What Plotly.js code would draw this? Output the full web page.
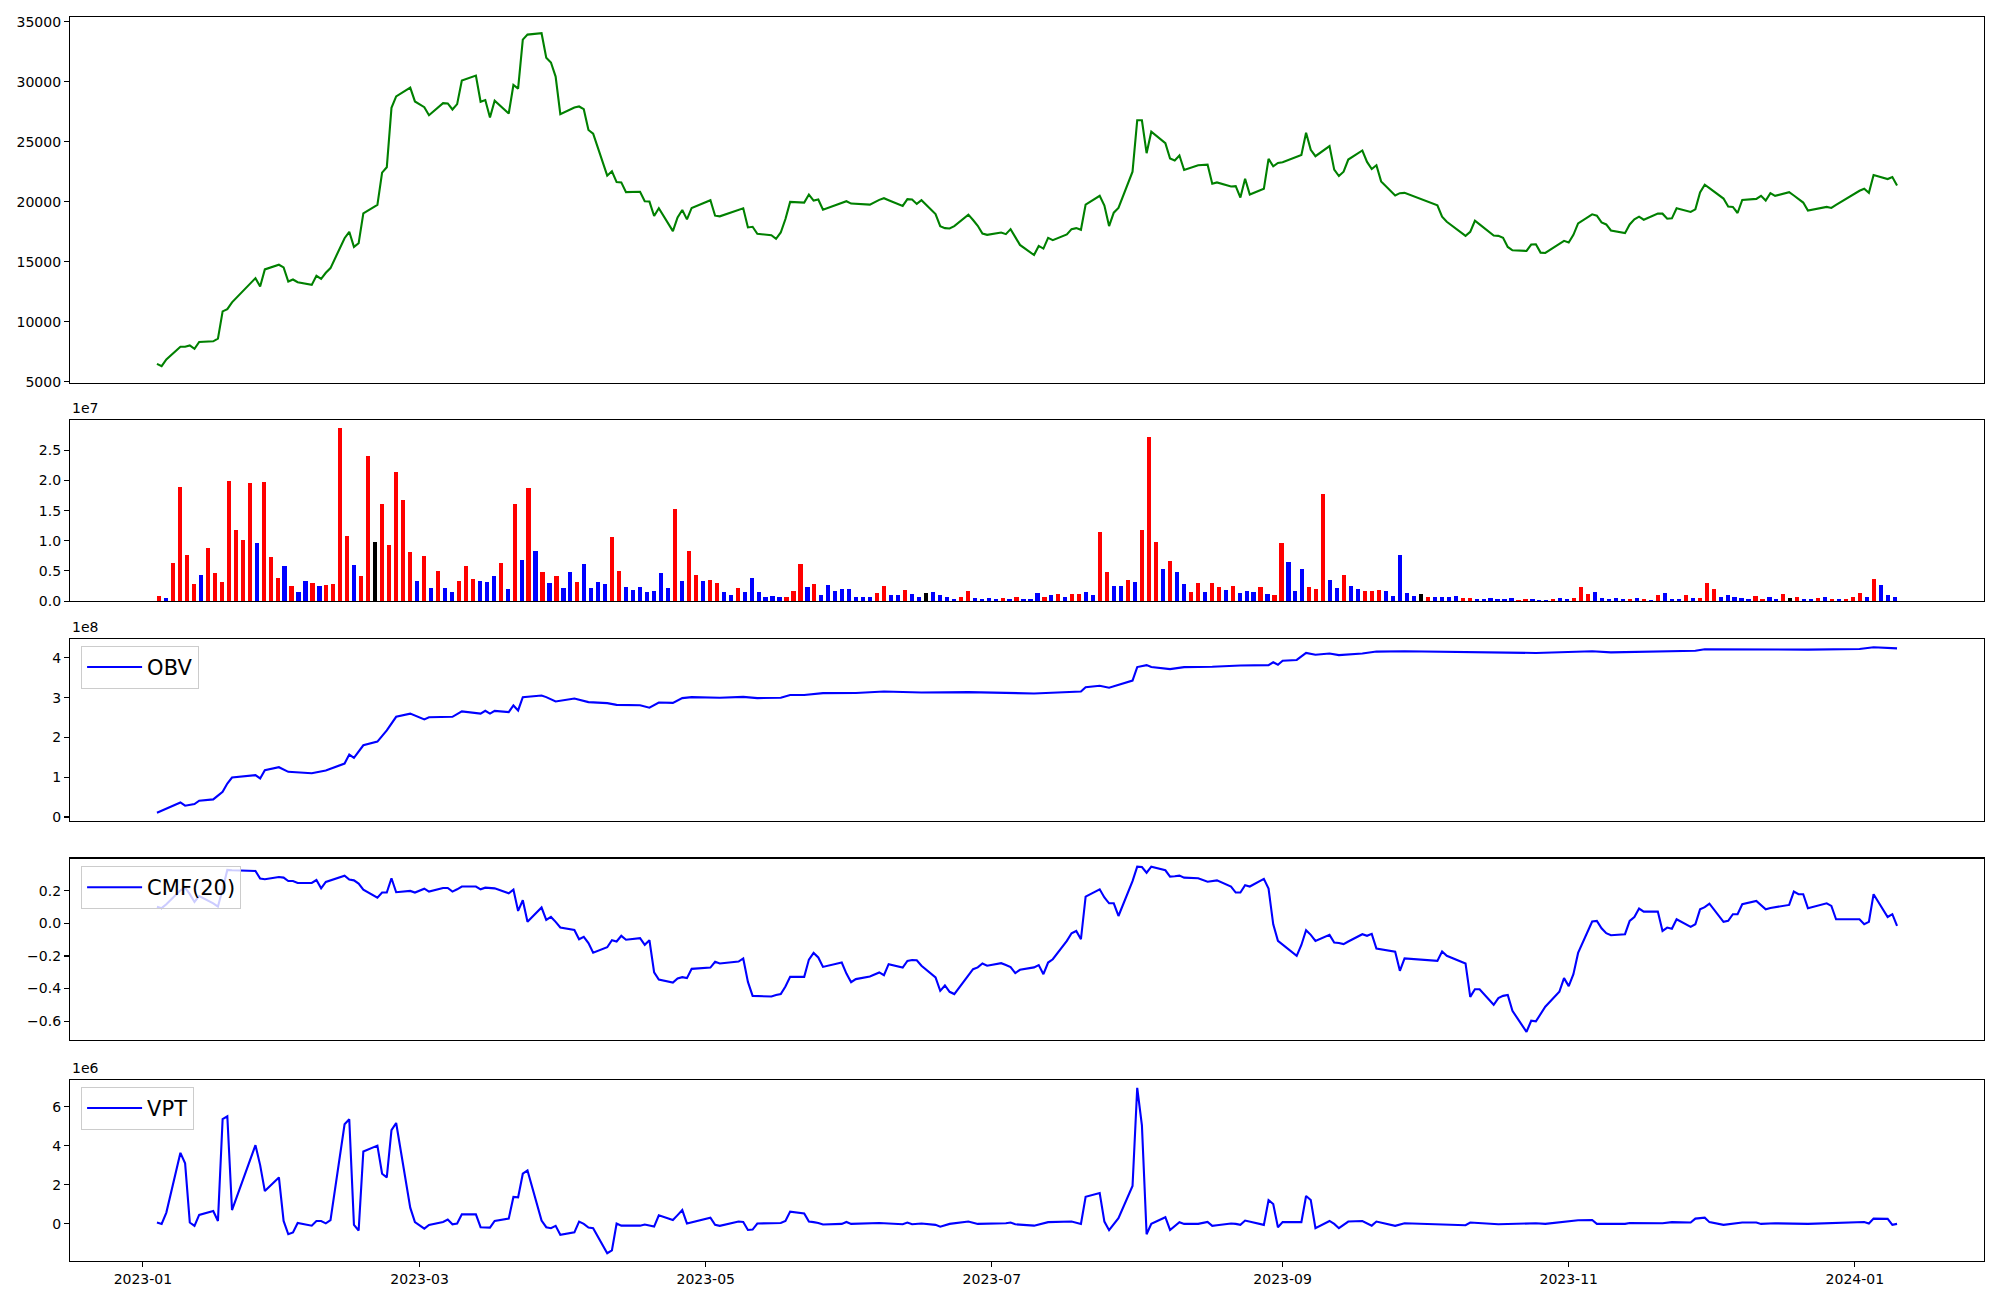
<!DOCTYPE html>
<html><head><meta charset="utf-8">
<script src="https://cdn.plot.ly/plotly-3.0.1.min.js"></script>
<style>html,body{margin:0;padding:0;background:#fff;}#chart{width:2000px;height:1300px;}</style>
</head><body><div id="chart"></div>
<script>
// ---------- calendar (trading days) ----------
const firstDate = '2023-01-04';
const lastDate = '2024-01-10';
const marketHolidays = ['2023-01-23','2023-01-24','2023-03-01','2023-05-01','2023-05-05','2023-05-29','2023-06-06',
  '2023-08-15','2023-09-28','2023-09-29','2023-10-02','2023-10-03','2023-10-09','2023-12-25','2023-12-29','2024-01-01'];
function buildTradingDays(){
  const out=[]; let d=new Date(firstDate+'T00:00:00Z'); const end=new Date(lastDate+'T00:00:00Z');
  while(d<=end){ const wd=d.getUTCDay(); const s=d.toISOString().slice(0,10);
    if(wd!==0&&wd!==6&&!marketHolidays.includes(s)) out.push(s);
    d=new Date(d.getTime()+86400000); }
  return out;
}
const dates = buildTradingDays();

// ---------- close price ----------
const closePrice = [
 6495,6300,6859,7923,7923,8035,7755,8315,8371,8595,10863,11059,11619,13635,12935,14363,14755,14531,
 13355,13523,13299,13075,13831,13579,14083,14475,16967,17499,16239,16547,19039,19739,22427,22875,27831,28783,29511,28363,
 27887,27215,28223,28195,27691,28139,30099,30519,28335,28475,27019,28419,27355,29735,29427,33515,33935,34047,32003,31611,30435,27299,
 27859,27943,27719,25983,25675,22175,22539,21643,21615,20803,20831,20047,20019,18815,19459,17555,18703,19319,18535,19487,
 20131,18843,18787,19375,19459,17863,17919,17331,17219,16911,17443,18563,19991,19935,20607,20103,20187,19347,19879,20047,
 19851,19823,19767,20159,20299,20131,19655,20215,20187,19823,20131,18983,17975,17807,17779,17975,18927,18479,18003,17359,17247,
 17443,17303,17723,17051,16407,15567,16323,16099,16995,16799,17275,17723,17807,17667,19767,20495,19683,17975,19095,19487,22511,
 26795,26795,24051,25843,24891,23603,23435,23855,22651,23043,23099,21503,21615,21279,21307,20355,21923,20607,21083,23575,22959,23239,
 23295,23715,23911,25759,24331,23799,24639,22679,22147,22511,23519,24275,23323,22735,23043,21699,20523,20719,20747,
 19711,18759,18339,17163,17499,18423,18115,17191,17163,16995,16239,15959,15903,16435,16463,15763,15735,16463,16743,
 16603,17247,18199,18955,18843,18283,18115,17611,17387,18115,18535,18759,18507,19011,19011,18591,18619,19459,19151,19375,20775,21419,
 21139,20271,19599,19571,19067,20159,20243,20495,20103,20719,20495,20803,20523,20215,19935,19263,19571,19487,19739,
 20915,21083,20747,22231,21895,22063,21363
];

// ---------- volume (millions of shares) and bar direction r=up b=down k=flat ----------
const volumeM = [
 0.83,0.5,6.3,18.9,7.6,2.8,4.3,8.8,4.65,3.2,
 19.9,11.8,10.1,19.6,9.6,19.8,7.3,3.8,5.8,2.5,
 1.5,3.3,3.0,2.5,2.65,2.8,28.7,10.8,6.0,4.15,
 24.1,9.8,16.1,9.3,21.4,16.8,8.1,3.3,7.5,2.2,
 5.0,2.2,1.5,3.3,5.8,3.65,3.3,3.15,4.15,6.3,
 2.0,16.1,6.8,18.8,8.3,4.8,3.0,4.15,2.2,4.8,
 3.15,6.15,2.2,3.15,2.8,10.6,5.0,2.3,1.8,2.3,
 1.5,1.65,4.65,2.2,15.3,3.3,8.3,4.3,3.3,3.5,
 3.0,1.5,1.0,2.2,1.5,3.8,1.5,0.66,0.83,0.66,
 0.66,1.65,6.15,2.3,2.8,1.0,2.65,1.65,2.0,2.0,
 0.66,0.66,0.66,1.33,2.5,1.0,1.0,1.8,1.15,0.66,
 1.33,1.5,1.0,0.66,0.33,0.66,1.65,0.5,0.33,0.5,
 0.33,0.5,0.33,0.66,0.33,0.33,1.33,0.66,1.0,1.15,
 0.66,1.15,1.15,1.5,1.0,11.5,4.8,2.5,2.5,3.5,
 3.15,11.8,27.2,9.8,5.3,6.6,4.8,2.8,1.5,3.0,
 1.5,3.0,2.3,1.8,2.5,1.33,1.65,1.5,2.3,1.15,
 1.0,9.6,6.5,1.65,5.3,2.3,2.0,17.8,3.5,2.2,
 4.3,2.5,2.0,1.65,1.65,1.8,1.65,0.83,7.6,1.33,
 0.83,1.15,0.66,0.66,0.66,0.66,0.83,0.5,0.5,0.33,
 0.33,0.5,0.33,0.33,0.5,0.17,0.33,0.33,0.17,0.17,
 0.33,0.5,0.33,0.5,2.3,1.15,1.5,0.5,0.33,0.5,
 0.33,0.33,0.5,0.33,0.17,1.0,1.33,0.33,0.33,1.0,
 0.5,0.5,3.0,2.0,0.66,1.0,0.66,0.5,0.33,0.83,
 0.33,0.66,0.33,1.15,0.5,0.66,0.33,0.33,0.5,0.66,
 0.33,0.33,0.33,0.66,1.33,0.66,3.65,2.65,1.0,0.66
];
const volumeDir = (
 'rbrrrrbrrr'+'rrrrbrrrbr'+'bbrbrrrrbr'+'rkrrrrrbrb'+'rbbrrrbbbr'+
 'brbrbrbrbb'+'rbbbbrrbbb'+'bbbbrbrrbr'+'rbbrbbbbbb'+'rrrbrbbbbb'+
 'bbbrrbbrbb'+'kbbbbrrbbb'+'brbrbbbrbr'+'brrbbrrbbr'+'brrrbrbbrr'+
 'brrbrbbbrb'+'rrbbbrrrbb'+'rbbrrrbbbb'+'bkrbbbbrrb'+'bbbbbrrbbb'+
 'rbbrrrbbbb'+'brbrbrbbbr'+'brrrbbbbbr'+'rbbrkrbbrb'+'rbrrrbrbbb').split('');

// ---------- OBV (x 1e8), sampled at trading-day indices ----------
const obvIdx = [0,3,4,6,7,8,10,11,12,13,14,15,16,18,21,24,26,27,28,30,31,33,35,36,38,39,42,44,46,47,48,49,50,51,52,53,55,56,58,60,
 63,65,67,70,72,74,75,77,79,82,84,87,90,92,93,97,101,104,110,116,126,131,134,135,136,138,141,142,144,145,147,150,153,157,161,162,163,164,165,167,
 169,170,172,175,178,182,197,205,209,221,223,239,243,246,249];
const obvE8 = [0.109,0.367,0.284,0.326,0.409,0.443,0.635,0.843,0.994,1.052,0.969,1.177,1.253,1.136,1.102,1.169,1.344,1.57,1.486,1.804,1.896,2.18,2.52,2.60,2.455,2.51,2.52,2.655,2.60,2.67,2.60,2.67,2.64,2.806,2.68,3.015,3.056,3.015,2.906,2.98,
 2.89,2.864,2.82,2.81,2.75,2.88,2.87,2.99,3.015,3.0,3.02,2.99,3.0,3.07,3.07,3.115,3.12,3.157,3.13,3.14,3.106,3.13,3.157,3.265,3.30,3.25,3.43,3.77,3.82,3.77,3.72,3.77,3.78,3.81,3.82,3.89,3.83,3.93,3.95,4.125,
 4.08,4.11,4.07,4.11,4.16,4.17,4.125,4.17,4.14,4.18,4.22,4.21,4.225,4.27,4.24];

// ---------- CMF(20) per trading day ----------
const cmf20 = [
 0.102,0.094,0.118,0.204,0.22,0.18,0.132,0.169,0.124,0.104,
 0.21,0.329,0.327,0.323,0.276,0.272,0.286,0.282,0.261,0.261,
 0.249,0.249,0.267,0.216,0.255,0.265,0.294,0.27,0.265,0.245,
 0.208,0.159,0.19,0.19,0.278,0.192,0.2,0.19,0.214,0.196,
 0.218,0.218,0.196,0.21,0.227,0.227,0.21,0.22,0.218,0.216,
 0.186,0.208,0.077,0.143,0.01,0.098,0.022,0.04,0.01,-0.025,
 -0.04,-0.097,-0.082,-0.121,-0.18,-0.146,-0.103,-0.111,-0.076,-0.1,
 -0.09,-0.131,-0.103,-0.301,-0.345,-0.363,-0.338,-0.33,-0.336,-0.279,
 -0.271,-0.236,-0.246,-0.234,-0.215,-0.359,-0.445,-0.446,-0.449,-0.44,
 -0.434,-0.387,-0.328,-0.328,-0.222,-0.181,-0.209,-0.267,-0.24,-0.308,
 -0.361,-0.342,-0.326,-0.301,-0.318,-0.25,-0.271,-0.23,-0.225,-0.226,
 -0.26,-0.332,-0.414,-0.381,-0.42,-0.434,-0.322,-0.281,-0.27,-0.246,
 -0.26,-0.244,-0.255,-0.268,-0.305,-0.285,-0.27,-0.256,-0.312,-0.24,
 -0.22,-0.107,-0.06,-0.046,-0.097,0.165,0.21,0.16,0.124,0.124,
 0.046,0.26,0.349,0.347,0.312,0.349,0.327,0.288,0.29,0.294,
 0.282,0.278,0.257,0.26,0.265,0.227,0.19,0.19,0.235,0.227,
 0.274,0.214,-0.005,-0.107,-0.13,-0.199,-0.132,-0.041,-0.07,-0.107,
 -0.07,-0.117,-0.12,-0.127,-0.111,-0.066,-0.076,-0.064,-0.154,-0.16,
 -0.174,-0.291,-0.215,-0.23,-0.172,-0.199,-0.246,-0.451,-0.404,-0.404,
 -0.5,-0.459,-0.445,-0.44,-0.537,-0.666,-0.598,-0.602,-0.56,-0.512,
 -0.42,-0.336,-0.385,-0.312,-0.181,0.012,0.016,-0.03,-0.06,-0.072,
 -0.066,0.016,0.04,0.092,0.073,0.073,-0.046,-0.025,-0.033,0.026,
 -0.021,-0.005,0.087,0.1,0.122,0.01,0.016,0.057,0.057,0.118,
 0.139,0.11,0.087,0.095,0.1,0.114,0.196,0.18,0.18,0.094,
 0.124,0.108,0.026,0.026,-0.005,0.01,0.18,0.04,0.057,-0.015
];

// ---------- VPT (x 1e6), sampled at trading-day indices ----------
const vptIdx = [0,1,2,3,4,5,6,7,8,9,10,11,12,13,14,15,16,17,18,19,20,21,22,23,24,25,26,27,28,29,30,31,32,33,34,35,36,37,38,39,
 40,41,42,43,44,45,46,47,48,49,50,51,52,53,54,55,56,57,58,59,60,61,62,63,64,65,66,67,68,69,70,71,72,73,74,75,76,77,78,79,
 80,81,82,83,84,85,86,87,88,89,90,91,92,93,94,95,96,97,98,99,100,103,106,107,108,110,111,112,114,116,117,118,122,123,124,126,129,131,132,134,
 135,136,137,138,139,140,141,142,143,144,145,146,147,148,149,150,151,152,153,154,155,156,157,158,159,160,161,162,163,164,166,167,168,169,170,171,172,174,175,177,
 178,180,182,184,186,187,191,197,199,204,205,206,210,211,216,218,220,221,223,224,225,229,230,231,234,239,240,244,245,246,247,248,249];
const vptE6 = [0.07,0,0.58,3.64,3.1,0.07,-0.1,0.46,0.66,0.15,5.37,5.51,0.71,4.03,3.01,1.68,2.38,0.15,-0.53,-0.44,0.05,-0.09,0.15,0.15,0.03,0.19,5.1,5.36,-0.05,-0.34,3.71,4.01,2.57,2.38,4.8,5.17,0.83,0.09,-0.24,-0.05,
 0.1,0.22,-0.02,0.02,0.49,0.49,-0.17,-0.18,-0.19,0.15,0.27,1.38,1.36,2.57,2.74,0.17,-0.17,-0.22,-0.1,-0.56,-0.43,0.12,0,-0.19,-0.22,-1.5,-1.36,0.02,-0.09,-0.09,-0.09,-0.03,-0.1,-0.14,0.44,0.2,0.45,0.71,0.02,0.08,
 0.32,-0.05,-0.1,0.12,0.1,-0.31,-0.29,0.02,0.02,0.02,0.05,0.15,0.63,0.54,0.12,0.09,0.05,-0.03,0,0.1,0,0.05,-0.02,0.07,-0.02,0.02,-0.05,-0.14,0,0.12,0.07,0,0.03,0.07,-0.02,-0.09,0.09,0.09,0.12,0,
 1.39,1.58,0.12,-0.32,0,0.29,1.94,6.97,5.05,-0.53,0,0.34,-0.31,-0.1,0.09,0,0,0.1,-0.1,-0.07,0.02,0,-0.05,0.17,0.12,-0.05,1.22,1.02,-0.17,0.09,0.09,1.43,1.22,-0.22,0.15,0,-0.22,0.12,0.15,-0.09,
 0.12,-0.1,0.03,-0.05,-0.07,0.07,-0.02,0.03,0,0.19,0.2,0,0,0.05,0.03,0.09,0.07,0.27,0.32,0.09,-0.05,0.07,0.07,0,0.03,0,0.03,0.1,0.02,0.27,0.26,-0.05,0];

// ---------- tick labels ----------
const priceTicks = [5000,10000,15000,20000,25000,30000,35000];
const volTicks = [0,5e6,1e7,1.5e7,2e7,2.5e7];
const volTickText = ['0.0','0.5','1.0','1.5','2.0','2.5'];
const obvTicks = [0,1e8,2e8,3e8,4e8];
const obvTickText = ['0','1','2','3','4'];
const cmfTicks = [-0.6,-0.4,-0.2,0,0.2];
const cmfTickText = ['\u22120.6','\u22120.4','\u22120.2','0.0','0.2'];
const vptTicks = [0,2e6,4e6,6e6];
const vptTickText = ['0','2','4','6'];
const dateTicks = ['2023-01-01','2023-03-01','2023-05-01','2023-07-01','2023-09-01','2023-11-01','2024-01-01'];
const dateTickText = ['2023-01','2023-03','2023-05','2023-07','2023-09','2023-11','2024-01'];

// ---------- build ----------
const dirColor = {r:'#ff0000', b:'#0000ff', k:'#000000'};
const FONT = 'DejaVu Sans, Arial, sans-serif';
const blue = '#0000ff';

const traces = [
  {type:'scatter', mode:'lines', x:dates, y:closePrice, line:{color:'#008000', width:2.1}, xaxis:'x', yaxis:'y', showlegend:false},
  {type:'bar', x:dates.map((_,i)=>i), y:volumeM.map(v=>v*1e6), width:0.6,
   marker:{color:volumeDir.map(c=>dirColor[c]), line:{width:0}}, xaxis:'x2', yaxis:'y2', showlegend:false},
  {type:'scatter', mode:'lines', name:'OBV', x:obvIdx.map(i=>dates[i]), y:obvE8.map(v=>v*1e8), line:{color:blue, width:2.1}, xaxis:'x3', yaxis:'y3', legend:'legend'},
  {type:'scatter', mode:'lines', name:'CMF(20)', x:dates, y:cmf20, line:{color:blue, width:2.1}, xaxis:'x4', yaxis:'y4', legend:'legend2'},
  {type:'scatter', mode:'lines', name:'VPT', x:vptIdx.map(i=>dates[i]), y:vptE6.map(v=>v*1e6), line:{color:blue, width:2.1}, xaxis:'x5', yaxis:'y5', legend:'legend3'}
];

const dateRange = ['2022-12-16 11:00','2024-01-28 13:00'];
const common = {showline:true, mirror:true, linecolor:'#000', linewidth:1.1, showgrid:false, zeroline:false,
  tickfont:{family:FONT, size:14, color:'#000'}, tickcolor:'#000', ticklen:5, tickwidth:1.1};
const yax = (dom, rng, tv, tt) => Object.assign({}, common, {domain:dom, range:rng, tickvals:tv, ticktext:tt, ticks:'outside'});
const xHidden = (anchor, extra) => Object.assign({}, common, {anchor:anchor, ticks:'', showticklabels:false}, extra);

const legendStyle = (y) => ({x:0.0058, y:y, xanchor:'left', yanchor:'top', bgcolor:'rgba(255,255,255,0.8)',
  bordercolor:'#cccccc', borderwidth:1, font:{family:FONT, size:21, color:'#000'}, itemwidth:55});

const layout = {
  width:2000, height:1300, paper_bgcolor:'#fff', plot_bgcolor:'#fff',
  margin:{l:70, r:16, t:17, b:39}, hovermode:false, bargap:0,
  font:{family:FONT, size:14, color:'#000'},
  xaxis: xHidden('y', {type:'date', range:dateRange}),
  yaxis: yax([0.7058,1], [4900,35400], priceTicks, priceTicks.map(String)),
  xaxis2: xHidden('y2', {range:[-12.78,261.78]}),
  yaxis2: yax([0.5305,0.6758], [0,3.0e7], volTicks, volTickText),
  xaxis3: xHidden('y3', {type:'date', range:dateRange}),
  yaxis3: yax([0.3537,0.4998], [-1.0e7,4.47e8], obvTicks, obvTickText),
  xaxis4: xHidden('y4', {type:'date', range:dateRange}),
  yaxis4: yax([0.1777,0.3235], [-0.716,0.399], cmfTicks, cmfTickText),
  xaxis5: Object.assign({}, common, {anchor:'y5', type:'date', range:dateRange, ticks:'outside', tickvals:dateTicks, ticktext:dateTickText}),
  yaxis5: yax([0,0.1455], [-1.9e6,7.37e6], vptTicks, vptTickText),
  legend: legendStyle(0.4945),
  legend2: legendStyle(0.3175),
  legend3: legendStyle(0.140),
  annotations: [
    {text:'1e7', xref:'paper', yref:'paper', x:0, y:0.6758, xanchor:'left', yanchor:'bottom', yshift:2, showarrow:false, font:{family:FONT, size:14, color:'#000'}},
    {text:'1e8', xref:'paper', yref:'paper', x:0, y:0.4998, xanchor:'left', yanchor:'bottom', yshift:2, showarrow:false, font:{family:FONT, size:14, color:'#000'}},
    {text:'1e6', xref:'paper', yref:'paper', x:0, y:0.1455, xanchor:'left', yanchor:'bottom', yshift:2, showarrow:false, font:{family:FONT, size:14, color:'#000'}}
  ]
};

Plotly.newPlot('chart', traces, layout, {displayModeBar:false, staticPlot:true});
</script>
</body></html>
